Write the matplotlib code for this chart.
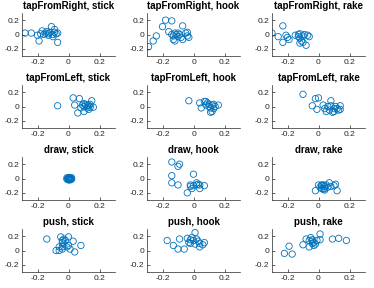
import matplotlib
matplotlib.use("Agg")
import matplotlib.pyplot as plt
import numpy as np

plt.rcParams['font.family'] = ['Liberation Sans', 'DejaVu Sans']

actions = ["tapFromRight", "tapFromLeft", "draw", "push"]
tools = ["stick", "hook", "rake"]

tfr_stick_x = [-0.28, -0.24, -0.20, -0.19, -0.17, -0.16, -0.15, -0.13, -0.13, -0.11, -0.12, -0.10, -0.10, -0.09, -0.08, -0.07, -0.07, -0.18, -0.14, -0.09]
tfr_stick_y = [0.02, 0.02, -0.01, -0.09, 0.05, 0.00, 0.02, 0.01, -0.01, 0.11, 0.03, 0.00, -0.03, 0.03, 0.01, 0.02, -0.11, 0.01, 0.04, 0.07]
tfr_hook_x = [-0.29, -0.26, -0.24, -0.20, -0.18, -0.14, -0.16, -0.14, -0.13, -0.12, -0.13, -0.11, -0.10, -0.10, -0.09, -0.08, -0.07, -0.07, -0.05, -0.04, -0.03, -0.04, -0.12]
tfr_hook_y = [-0.17, -0.09, -0.02, 0.11, 0.20, 0.19, 0.04, 0.00, -0.02, 0.02, -0.07, 0.00, -0.03, 0.02, 0.00, -0.04, -0.07, 0.12, 0.02, -0.02, -0.04, 0.03, -0.09]
tfr_rake_x = [-0.30, -0.26, -0.23, -0.23, -0.21, -0.20, -0.19, -0.15, -0.13, -0.13, -0.12, -0.12, -0.11, -0.10, -0.10, -0.09, -0.08, -0.07, -0.06, -0.12]
tfr_rake_y = [0.02, -0.03, -0.11, 0.12, -0.01, -0.04, -0.07, -0.01, 0.00, -0.03, 0.01, -0.05, -0.09, -0.02, -0.11, 0.00, -0.15, -0.01, -0.03, -0.12]

tfl_stick_x = [-0.07, 0.03, 0.04, 0.06, 0.07, 0.08, 0.10, 0.10, 0.11, 0.12, 0.12, 0.13, 0.13, 0.14, 0.15, 0.16, 0.10, 0.09, 0.14]
tfl_stick_y = [0.01, 0.12, 0.02, -0.09, 0.11, -0.02, 0.04, 0.00, 0.03, -0.02, 0.01, -0.04, 0.02, -0.01, 0.08, -0.01, -0.07, 0.02, 0.03]
tfl_hook_x = [-0.03, 0.04, 0.05, 0.07, 0.08, 0.09, 0.10, 0.10, 0.11, 0.12, 0.12, 0.13, 0.13, 0.14, 0.16, 0.08, 0.11]
tfl_hook_y = [0.08, 0.05, -0.02, 0.07, 0.02, 0.05, 0.00, 0.03, -0.02, 0.02, -0.07, -0.03, 0.03, 0.00, 0.02, 0.07, -0.08]
tfl_rake_x = [-0.10, -0.04, -0.02, 0.00, -0.01, 0.03, 0.04, 0.06, 0.07, 0.08, 0.08, 0.10, 0.10, 0.11, 0.12, 0.13, 0.14, 0.14, 0.05, 0.09]
tfl_rake_y = [0.17, 0.01, 0.11, 0.12, -0.04, 0.02, -0.03, 0.00, -0.05, 0.01, 0.08, -0.03, -0.07, 0.00, -0.03, -0.05, 0.01, -0.04, -0.07, -0.08]

draw_stick_x = [0.00, 0.01, -0.01, 0.02, 0.00, 0.01, -0.01, 0.02, 0.00, 0.01, -0.005, 0.015, 0.005, 0.00, 0.01]
draw_stick_y = [0.00, 0.01, -0.01, -0.01, -0.02, -0.01, 0.01, 0.01, -0.01, -0.02, 0.00, 0.00, 0.015, 0.005, -0.005]
draw_hook_x = [-0.14, -0.09, -0.10, -0.14, -0.14, -0.10, -0.04, -0.02, -0.01, 0.00, 0.00, 0.02, 0.03, 0.04, 0.04, 0.07, -0.02, 0.02]
draw_hook_y = [0.23, 0.20, 0.17, 0.04, -0.06, -0.09, -0.20, -0.09, -0.14, 0.06, -0.10, -0.09, -0.08, -0.09, -0.14, -0.10, -0.11, -0.06]
draw_rake_x = [-0.02, 0.00, 0.01, 0.02, 0.03, 0.04, 0.04, 0.05, 0.06, 0.07, 0.08, 0.10, 0.11, 0.12, 0.03, 0.02, 0.04, 0.02]
draw_rake_y = [-0.17, -0.09, -0.12, -0.10, -0.15, -0.11, -0.14, -0.09, -0.12, -0.06, -0.11, -0.10, -0.08, -0.17, -0.09, -0.14, -0.16, -0.09]

push_stick_x = [-0.14, -0.08, -0.06, -0.05, -0.04, -0.04, -0.04, -0.03, -0.03, -0.04, -0.02, -0.01, 0.00, 0.00, 0.01, 0.03, 0.04, 0.08, -0.06]
push_stick_y = [0.16, 0.00, 0.05, 0.19, 0.14, 0.11, 0.05, 0.16, 0.09, 0.02, 0.14, 0.05, 0.19, 0.07, 0.02, 0.13, -0.02, 0.07, 0.00]
push_hook_x = [-0.17, -0.13, -0.10, -0.09, -0.06, -0.04, -0.03, -0.02, -0.02, -0.01, 0.00, 0.01, 0.02, 0.03, 0.04, 0.04, 0.06, 0.07, 0.01]
push_hook_y = [0.14, 0.07, 0.02, 0.16, 0.02, 0.17, 0.11, 0.15, 0.10, 0.18, 0.14, 0.25, 0.16, 0.13, 0.05, 0.10, 0.08, 0.11, 0.09]
push_rake_x = [-0.22, -0.19, -0.17, -0.10, -0.08, -0.06, -0.06, -0.05, -0.04, -0.04, -0.03, -0.03, -0.02, -0.01, 0.01, 0.01, 0.09, 0.13, 0.18, -0.04]
push_rake_y = [-0.04, 0.06, -0.05, 0.08, 0.16, 0.14, 0.05, 0.18, 0.10, 0.15, 0.07, 0.11, 0.09, 0.14, 0.23, 0.15, 0.16, 0.17, 0.14, 0.13]

data = [
    [(tfr_stick_x, tfr_stick_y), (tfr_hook_x, tfr_hook_y), (tfr_rake_x, tfr_rake_y)],
    [(tfl_stick_x, tfl_stick_y), (tfl_hook_x, tfl_hook_y), (tfl_rake_x, tfl_rake_y)],
    [(draw_stick_x, draw_stick_y), (draw_hook_x, draw_hook_y), (draw_rake_x, draw_rake_y)],
    [(push_stick_x, push_stick_y), (push_hook_x, push_hook_y), (push_rake_x, push_rake_y)],
]

blue = (0.0, 0.447, 0.741)
axc = (0.15, 0.15, 0.15)

fig = plt.figure(figsize=(3.74, 2.88), dpi=100)
W, H = 374, 288
lefts = [22, 147, 272]
tops = [13, 85, 157, 229]
aw, ah = 93, 43
for r in range(4):
    for c in range(3):
        ax = fig.add_axes([lefts[c] / W, 1 - (tops[r] + ah) / H, aw / W, ah / H])
        x, y = data[r][c]
        ax.scatter(x, y, s=21, facecolors='none', edgecolors=blue, linewidths=0.6)
        ax.set_xlim(-0.3, 0.3)
        ax.set_ylim(-0.3, 0.3)
        ax.set_xticks([-0.2, 0, 0.2])
        ax.set_yticks([-0.2, 0, 0.2])
        ax.set_xticklabels(["-0.2", "0", "0.2"])
        ax.set_yticklabels(["-0.2", "0", "0.2"])
        for s in ['top', 'right']:
            ax.spines[s].set_visible(False)
        for s in ['left', 'bottom']:
            ax.spines[s].set_color(axc)
            ax.spines[s].set_linewidth(0.5)
        ax.tick_params(direction='in', length=2, width=0.5, colors=axc, labelsize=6, pad=2)
        ax.set_title(f"{actions[r]}, {tools[c]}", fontsize=7, fontweight='bold', pad=3)
        ax.patch.set_alpha(0)

fig.savefig("out.png", dpi=100)
